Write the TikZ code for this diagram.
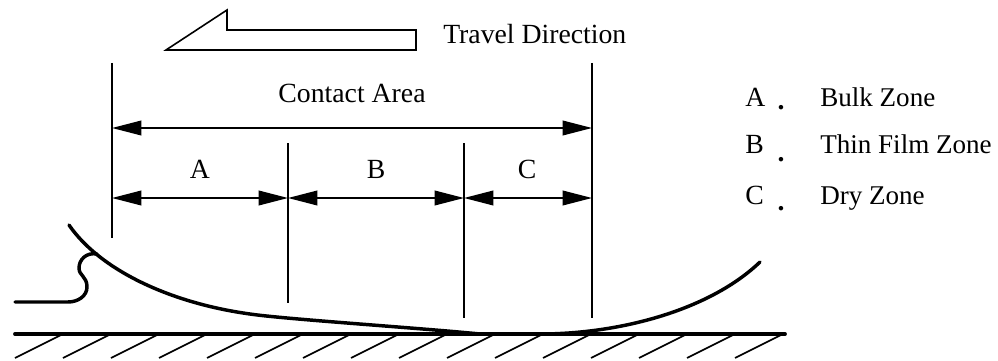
\documentclass[tikz,border=0pt]{standalone}
\usepackage{fontspec}
\setmainfont{Liberation Serif}
\usetikzlibrary{arrows.meta}
\tikzset{
  lbl/.style={inner sep=0pt,font=\fontsize{20.8}{24}\selectfont},
  keylbl/.style={inner sep=0pt,font=\fontsize{20.3}{24}\selectfont},
  thin line/.style={line width=1.2pt},
  film/.style={line width=2.6pt,line cap=round},
  dim/.style={thin line,{Triangle[length=22pt,width=11pt]}-{Triangle[length=22pt,width=11pt]}}
}
\begin{document}
\begin{tikzpicture}[x=0.75pt,y=-0.75pt]
  \useasboundingbox (0,0) rectangle (998,360);
  % travel arrow
  \draw[thin line] (166,50) -- (227,10) -- (227,30) -- (416,30) -- (416,50) -- cycle;
  \node[lbl,anchor=base west] (travel) at (443,44) {Travel Direction};
  % vertical limits
  \coordinate (la) at (112,63);  \coordinate (lb) at (112,238);
  \coordinate (ma) at (288,143); \coordinate (mb) at (288,303);
  \coordinate (na) at (464,143); \coordinate (nb) at (464,318);
  \coordinate (ra) at (592,63);  \coordinate (rb) at (592,318);
  \draw[thin line] (la) -- (lb);
  \draw[thin line] (ma) -- (mb);
  \draw[thin line] (na) -- (nb);
  \draw[thin line] (ra) -- (rb);
  % dimensions
  \coordinate (tl) at (112,128); \coordinate (tr) at (592,128);
  \coordinate (d0) at (112,198); \coordinate (d1) at (288,198);
  \coordinate (d2) at (464,198); \coordinate (d3) at (592,198);
  \draw[dim] (tl) -- (tr);
  \draw[dim] (d0) -- (d1);
  \draw[dim] (d1) -- (d2);
  \draw[dim] (d2) -- (d3);
  \node[lbl,anchor=base] (area) at (352,102) {Contact Area};
  \node[lbl,anchor=base] (zonea) at (200,178) {A};
  \node[lbl,anchor=base] (zoneb) at (376,178) {B};
  \node[lbl,anchor=base] (zonec) at (527,178) {C};
  % legend
  \foreach \nm/\txt/\yb/\yd in {A/Bulk Zone/106/109,B/Thin Film Zone/153/161,C/Dry Zone/204/210}{
    \node[lbl,anchor=base west] (key\nm) at (745,\yb) {\nm};
    \node[lbl,anchor=base] (dot\nm) at (781,\yd) {\textbf{.}};
    \node[keylbl,anchor=base west] (name\nm) at (820,\yb) {\txt};
  }
  % film and ground
  \draw[film] (69,225) .. controls (100,270) and (170,303) .. (250,314)
    .. controls (283,319) and (420,328) .. (480,334) -- (540,334)
    .. controls (620,334) and (710,310) .. (760,262);
  \draw[film] (97,254) .. controls (86,252) and (79,260) .. (79,268)
    .. controls (79,276) and (87,276) .. (87,287)
    .. controls (87,296) and (78,302) .. (68,302) -- (15,302);
  \draw[line width=2.9pt,line cap=round] (15,334) -- (785,334);
  \foreach \i in {0,...,15}{
    \draw[thin line] (15+48*\i,358) -- (63+48*\i,334);
  }
\end{tikzpicture}
\end{document}
